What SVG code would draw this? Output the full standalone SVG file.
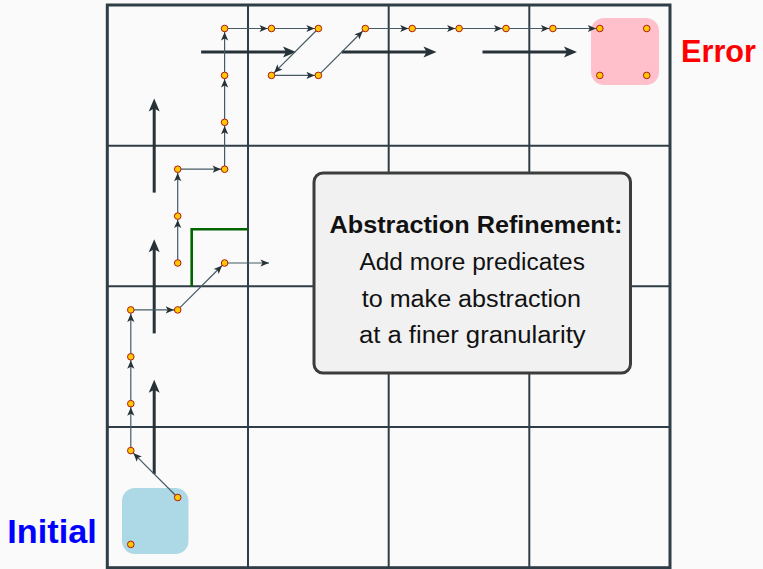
<svg xmlns="http://www.w3.org/2000/svg" width="763" height="569" viewBox="0 0 763 569">
  <style>
    .grid { stroke: #2f3e46; stroke-width: 2; fill: none; }
    .border { stroke: #2f3e46; stroke-width: 3; fill: none; }
    .thin { stroke: #455a64; stroke-width: 1.2; fill: none; marker-end: url(#thinHead); }
    .thick { stroke: #263238; stroke-width: 3; fill: none; marker-end: url(#thickHead); }
    .dot { fill: #ffc800; stroke: #b01818; stroke-width: 1; }
    .box { fill: #f1f1f1; stroke: #3c3c3c; stroke-width: 3; }
    .boxtext { font-family: "Liberation Sans", Arial, sans-serif; font-size: 23.5px; fill: #111; text-anchor: middle; }
    .label { font-family: "Liberation Sans", Arial, sans-serif; font-weight: bold; }
  </style>
  <defs>
    <marker id="thinHead" markerUnits="userSpaceOnUse" markerWidth="30" markerHeight="30" refX="0" refY="0" orient="auto" overflow="visible">
      <path d="M-3.8,0 L-12,-3.6 L-10,0 L-12,3.6 Z" fill="#263238"/>
    </marker>
    <marker id="tipHead" markerUnits="userSpaceOnUse" markerWidth="30" markerHeight="30" refX="0" refY="0" orient="auto" overflow="visible">
      <path d="M0,0 L-8.5,-3.6 L-6.5,0 L-8.5,3.6 Z" fill="#263238"/>
    </marker>
    <marker id="thickHead" markerUnits="userSpaceOnUse" markerWidth="30" markerHeight="30" refX="0" refY="0" orient="auto" overflow="visible">
      <path d="M8,0 L-5,-5.5 L-2,0 L-5,5.5 Z" fill="#263238"/>
    </marker>
  </defs>

  <rect x="0" y="0" width="763" height="569" fill="#fafafa"/>

  <!-- regions -->
  <g id="error-region">
    <rect x="591" y="18" width="68" height="67" rx="13" fill="#ffc0cb"/>
  </g>
  <g id="initial-region">
    <rect x="122" y="488" width="66.5" height="66" rx="13" fill="#add8e6"/>
  </g>

  <!-- grid -->
  <g id="grid">
    <line class="grid" x1="248" y1="5" x2="248" y2="567.7"/>
    <line class="grid" x1="388.7" y1="5" x2="388.7" y2="567.7"/>
    <line class="grid" x1="529.3" y1="5" x2="529.3" y2="567.7"/>
    <line class="grid" x1="107.3" y1="145.7" x2="670" y2="145.7"/>
    <line class="grid" x1="107.3" y1="286.3" x2="670" y2="286.3"/>
    <line class="grid" x1="107.3" y1="427" x2="670" y2="427"/>
    <rect class="border" x="107.3" y="5" width="562.7" height="562.7"/>
  </g>

  <g id="refinement-boundary">
    <path d="M191.7,286.3 V229.3 H248" fill="none" stroke="#006400" stroke-width="2.6"/>
  </g>

  <!-- connectors -->
  <g id="connectors">
    <!-- abstract transitions -->
    <line class="thick" x1="154.2" y1="474" x2="154.2" y2="387.8"/>
    <line class="thick" x1="154.2" y1="333.4" x2="154.2" y2="247.2"/>
    <line class="thick" x1="154.2" y1="192.6" x2="154.2" y2="106.5"/>
    <line class="thick" x1="201.1" y1="52" x2="288" y2="52"/>
    <line class="thick" x1="341.8" y1="52" x2="428.5" y2="52"/>
    <line class="thick" x1="482.5" y1="52" x2="569" y2="52"/>

    <!-- concrete path -->
    <line class="thin" x1="177.7" y1="497.5" x2="130.8" y2="450.6"/>
    <line class="thin" x1="130.8" y1="450.6" x2="130.8" y2="403.7"/>
    <line class="thin" x1="130.8" y1="403.7" x2="130.8" y2="356.8"/>
    <line class="thin" x1="130.8" y1="356.8" x2="130.8" y2="309.9"/>
    <line class="thin" x1="130.8" y1="309.9" x2="177.7" y2="309.9"/>
    <line class="thin" x1="177.7" y1="309.9" x2="224.6" y2="263"/>
    <line x1="224.6" y1="263" x2="269" y2="263" stroke="#455a64" stroke-width="1.2" marker-end="url(#tipHead)"/>

    <line class="thin" x1="177.7" y1="263" x2="177.7" y2="216.1"/>
    <line class="thin" x1="177.7" y1="216.1" x2="177.7" y2="169.2"/>
    <line class="thin" x1="177.7" y1="169.2" x2="224.6" y2="169.2"/>
    <line class="thin" x1="224.6" y1="169.2" x2="224.6" y2="122.3"/>
    <line class="thin" x1="224.6" y1="122.3" x2="224.6" y2="75.4"/>
    <line class="thin" x1="224.6" y1="75.4" x2="224.6" y2="28.5"/>
    <line class="thin" x1="224.6" y1="28.5" x2="271.5" y2="28.5"/>
    <line class="thin" x1="271.5" y1="28.5" x2="318.4" y2="28.5"/>
    <line class="thin" x1="318.4" y1="28.5" x2="271.5" y2="75.4"/>
    <line class="thin" x1="271.5" y1="75.4" x2="318.4" y2="75.4"/>
    <line class="thin" x1="318.4" y1="75.4" x2="365.3" y2="28.5"/>
    <line class="thin" x1="365.3" y1="28.5" x2="412.2" y2="28.5"/>
    <line class="thin" x1="412.2" y1="28.5" x2="459.1" y2="28.5"/>
    <line class="thin" x1="459.1" y1="28.5" x2="506" y2="28.5"/>
    <line class="thin" x1="506" y1="28.5" x2="552.9" y2="28.5"/>
    <line class="thin" x1="552.9" y1="28.5" x2="599.8" y2="28.5"/>
  </g>

  <!-- states -->
  <g id="states">
    <circle class="dot" cx="177.7" cy="497.5" r="3.3"/>
    <circle class="dot" cx="130.8" cy="544.4" r="3.3"/>
    <circle class="dot" cx="130.8" cy="450.6" r="3.3"/>
    <circle class="dot" cx="130.8" cy="403.7" r="3.3"/>
    <circle class="dot" cx="130.8" cy="356.8" r="3.3"/>
    <circle class="dot" cx="130.8" cy="309.9" r="3.3"/>
    <circle class="dot" cx="177.7" cy="309.9" r="3.3"/>
    <circle class="dot" cx="224.6" cy="263" r="3.3"/>
    <circle class="dot" cx="177.7" cy="263" r="3.3"/>
    <circle class="dot" cx="177.7" cy="216.1" r="3.3"/>
    <circle class="dot" cx="177.7" cy="169.2" r="3.3"/>
    <circle class="dot" cx="224.6" cy="169.2" r="3.3"/>
    <circle class="dot" cx="224.6" cy="122.3" r="3.3"/>
    <circle class="dot" cx="224.6" cy="75.4" r="3.3"/>
    <circle class="dot" cx="224.6" cy="28.5" r="3.3"/>
    <circle class="dot" cx="271.5" cy="28.5" r="3.3"/>
    <circle class="dot" cx="318.4" cy="28.5" r="3.3"/>
    <circle class="dot" cx="271.5" cy="75.4" r="3.3"/>
    <circle class="dot" cx="318.4" cy="75.4" r="3.3"/>
    <circle class="dot" cx="365.3" cy="28.5" r="3.3"/>
    <circle class="dot" cx="412.2" cy="28.5" r="3.3"/>
    <circle class="dot" cx="459.1" cy="28.5" r="3.3"/>
    <circle class="dot" cx="506" cy="28.5" r="3.3"/>
    <circle class="dot" cx="552.9" cy="28.5" r="3.3"/>
    <circle class="dot" cx="599.8" cy="28.5" r="3.3"/>
    <circle class="dot" cx="646.7" cy="28.5" r="3.3"/>
    <circle class="dot" cx="599.8" cy="75.4" r="3.3"/>
    <circle class="dot" cx="646.7" cy="75.4" r="3.3"/>
  </g>

  <g id="refinement-note">
    <rect class="box" x="314" y="173" width="316.5" height="200" rx="9"/>
    <text class="boxtext" x="476" y="232.7" font-weight="bold" textLength="293" lengthAdjust="spacingAndGlyphs">Abstraction Refinement:</text>
    <text class="boxtext" x="472.2" y="269.8" textLength="225.5" lengthAdjust="spacingAndGlyphs">Add more predicates</text>
    <text class="boxtext" x="471.4" y="306.6" textLength="219.3" lengthAdjust="spacingAndGlyphs">to make abstraction</text>
    <text class="boxtext" x="472.3" y="343.4" textLength="226.7" lengthAdjust="spacingAndGlyphs">at a finer granularity</text>
  </g>

  <g id="label-error">
    <text class="label" x="681" y="61.8" font-size="32" fill="#ff0000" textLength="75" lengthAdjust="spacingAndGlyphs">Error</text>
  </g>
  <g id="label-initial">
    <text class="label" x="7.3" y="543.4" font-size="34" fill="#0000ff" textLength="89.4" lengthAdjust="spacingAndGlyphs">Initial</text>
  </g>
</svg>
